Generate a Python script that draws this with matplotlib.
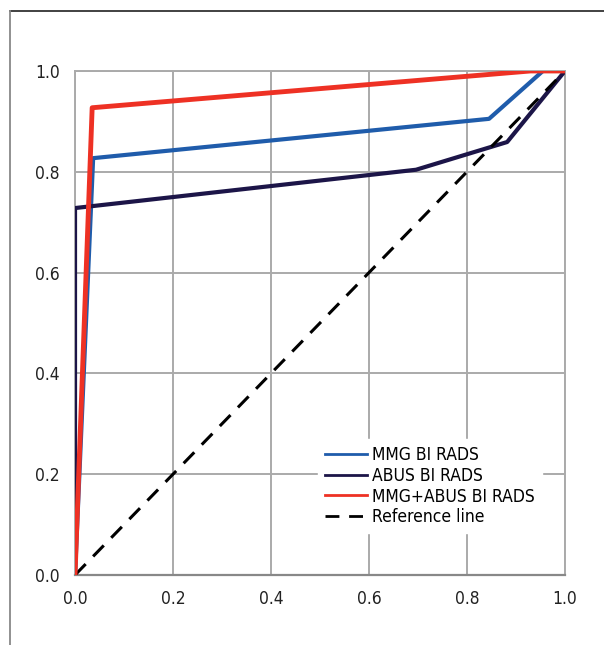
import matplotlib.pyplot as plt
from matplotlib.lines import Line2D

# ROC curve points (false positive rate, sensitivity)
mmg_fpr = [0.0, 0.037, 0.845, 0.955, 1.0]
mmg_tpr = [0.0, 0.827, 0.905, 1.0, 1.0]

abus_fpr = [0.0, 0.0, 0.696, 0.882, 1.0]
abus_tpr = [0.0, 0.728, 0.804, 0.859, 1.0]

both_fpr = [0.0, 0.035, 0.93, 1.0]
both_tpr = [0.0, 0.927, 1.0, 1.0]

ref_x = [0.0, 1.0]
ref_y = [0.0, 1.0]

ticks = [0.0, 0.2, 0.4, 0.6, 0.8, 1.0]
tick_labels = ["0.0", "0.2", "0.4", "0.6", "0.8", "1.0"]

plt.rcParams['font.family'] = ['Liberation Sans Narrow', 'DejaVu Sans']
plt.rcParams['font.stretch'] = 'condensed'

fig = plt.figure(figsize=(6.04, 6.45), dpi=100)
ax = fig.add_axes([0.1242, 0.1085, 0.8112, 0.7815])

# outer frame (top and left edges only)
fig.add_artist(Line2D([10/604, 1.0], [1 - 11/645, 1 - 11/645],
                      transform=fig.transFigure, color="#333333", linewidth=1.3))
fig.add_artist(Line2D([10/604, 10/604], [0.0, 1 - 11/645],
                      transform=fig.transFigure, color="#888888", linewidth=1.3))

ax.plot(mmg_fpr, mmg_tpr, color="#1f5cab", linewidth=3, label="MMG BI RADS", zorder=3)
ax.plot(abus_fpr, abus_tpr, color="#1c1548", linewidth=3, label="ABUS BI RADS", zorder=3)
ax.plot(both_fpr, both_tpr, color="#ee3124", linewidth=3.5, label="MMG+ABUS BI RADS", zorder=4)
ax.plot(ref_x, ref_y, color="black", linewidth=2.2, linestyle=(0, (5, 3.5)),
        label="Reference line", zorder=3)

ax.set_xlim(0, 1)
ax.set_ylim(0, 1)
ax.set_xticks(ticks)
ax.set_yticks(ticks)
ax.set_xticklabels(tick_labels, fontsize=12.5)
ax.set_yticklabels(tick_labels, fontsize=12.5)
ax.tick_params(length=0, pad=11, colors="#222222")
ax.grid(True, color="#aaaaaa", linewidth=1.4)
ax.set_axisbelow(True)
for side in ["top", "right", "left"]:
    ax.spines[side].set_color("#aaaaaa")
    ax.spines[side].set_linewidth(1.4)
ax.spines["bottom"].set_color("#888888")
ax.spines["bottom"].set_linewidth(1.6)

leg = ax.legend(loc="lower right", bbox_to_anchor=(0.97, 0.066), frameon=True,
                fontsize=12.5, handlelength=2.4, handletextpad=0.3,
                labelspacing=0.15, borderpad=0.4, fancybox=False)
leg.get_frame().set_edgecolor("white")
leg.get_frame().set_facecolor("white")
leg.get_frame().set_alpha(1)
for line in leg.get_lines():
    line.set_linewidth(2)

plt.savefig("out.png", dpi=100)
